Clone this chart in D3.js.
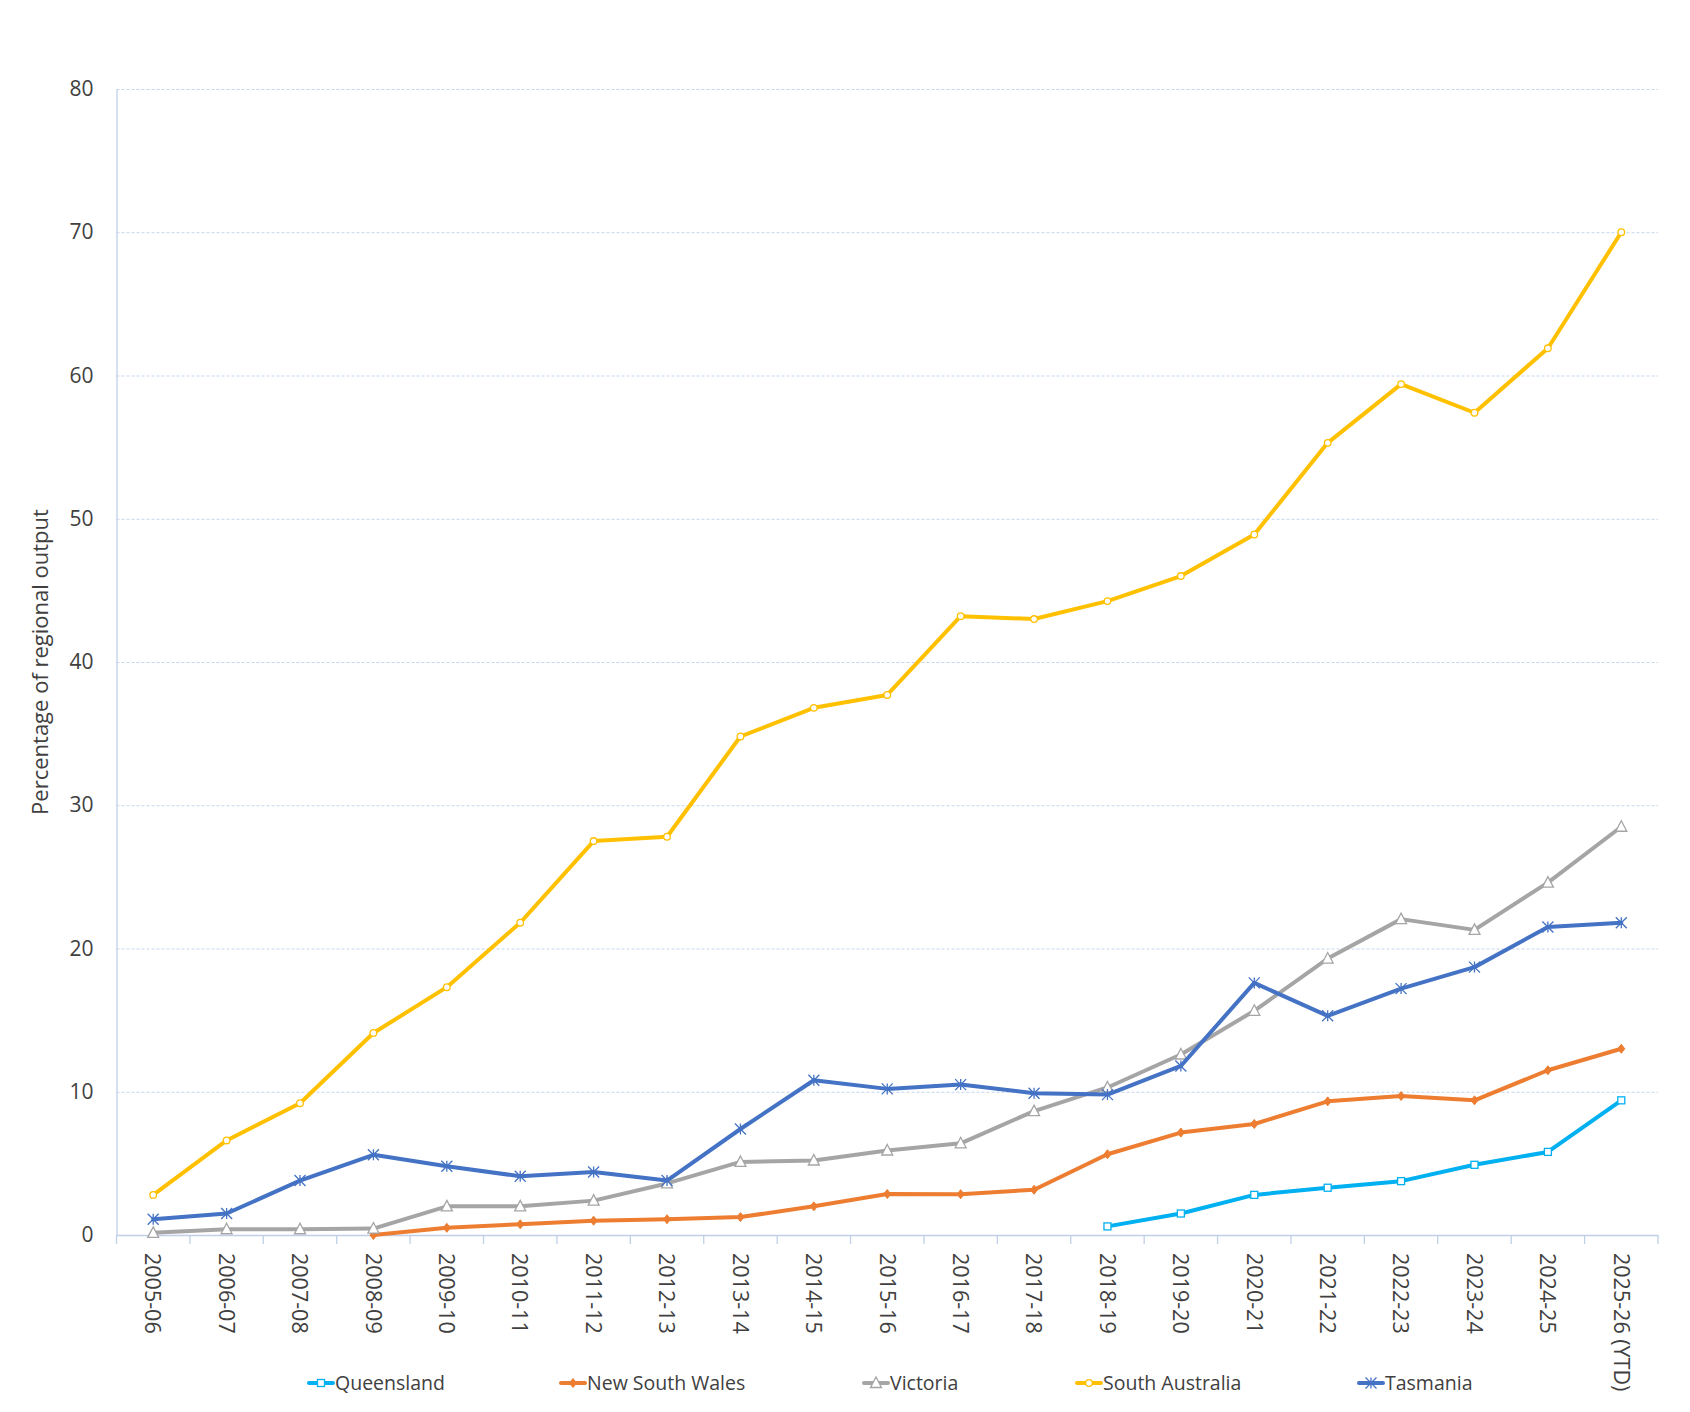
<!DOCTYPE html>
<html>
<head>
<meta charset="utf-8">
<script src="https://cdn.jsdelivr.net/npm/d3@7"></script>
<style>
  html, body { margin: 0; padding: 0; background: #ffffff; }
  svg { display: block; font-family: "Open Sans", "Noto Sans", sans-serif; }
</style>
</head>
<body>
<div id="chart"></div>
<script>
const categories = ["2005-06","2006-07","2007-08","2008-09","2009-10","2010-11","2011-12","2012-13","2013-14","2014-15","2015-16","2016-17","2017-18","2018-19","2019-20","2020-21","2021-22","2022-23","2023-24","2024-25","2025-26 (YTD)"];

const queensland = [null,null,null,null,null,null,null,null,null,null,null,null,null,0.6,1.5,2.8,3.3,3.76,4.9,5.8,9.4];
const newSouthWales = [null,null,null,0.0,0.5,0.75,1.0,1.1,1.25,2.0,2.86,2.85,3.16,5.64,7.15,7.75,9.33,9.7,9.4,11.5,13.0];
const victoria = [0.15,0.4,0.4,0.45,2.0,2.0,2.4,3.6,5.1,5.2,5.9,6.4,8.65,10.3,12.6,15.65,19.3,22.05,21.3,24.6,28.5];
const southAustralia = [2.8,6.6,9.2,14.1,17.3,21.8,27.5,27.8,34.8,36.8,37.7,43.2,43.0,44.25,46.0,48.9,55.3,59.4,57.4,61.9,70.0];
const tasmania = [1.1,1.5,3.8,5.6,4.8,4.1,4.4,3.8,7.4,10.8,10.2,10.5,9.9,9.8,11.8,17.6,15.3,17.2,18.7,21.5,21.8];

const yTicks = [0,10,20,30,40,50,60,70,80];
const yTitle = "Percentage of regional output";

const seriesNames = ["Queensland","New South Wales","Victoria","South Australia","Tasmania"];
const seriesValues = [queensland, newSouthWales, victoria, southAustralia, tasmania];
const seriesColors = ["#00b0f0","#ed7d31","#a5a5a5","#ffc000","#4472c4"];
const seriesMarkers = ["square","diamond","triangle","circle","star"];

const W = 1690, H = 1412;
const plot = {left: 116.5, right: 1658, top: 89, bottom: 1235};

const svg = d3.select("#chart").append("svg").attr("width", W).attr("height", H);

const x = d3.scaleBand().domain(categories).range([plot.left, plot.right]).paddingInner(0).paddingOuter(0);
const xc = d => x(d) + x.bandwidth() / 2;
const y = d3.scaleLinear().domain([0, 80]).range([plot.bottom, plot.top]);

// gridlines
const grid = svg.append("g")
  .attr("transform", `translate(${plot.left},0)`)
  .call(d3.axisLeft(y).tickValues(yTicks.filter(v => v > 0)).tickSize(-(plot.right - plot.left)).tickFormat(""));
grid.select(".domain").remove();
grid.selectAll(".tick line").attr("stroke", "#c3d5ec").attr("stroke-width", 1).attr("stroke-dasharray", "3,2");

// y axis
const yAxis = svg.append("g")
  .attr("transform", `translate(${plot.left},0)`)
  .call(d3.axisLeft(y).tickValues(yTicks).tickSize(0).tickPadding(23).tickFormat(d3.format("d")));
yAxis.select(".domain").attr("stroke", "#c0d0e8").attr("stroke-width", 1.3);
yAxis.selectAll(".tick text").attr("font-size", 21).attr("fill", "#404040")
  .attr("font-family", "'Open Sans', sans-serif");

// x axis
const xAxis = svg.append("g")
  .attr("transform", `translate(0,${plot.bottom})`)
  .call(d3.axisBottom(x).tickSize(0).tickPadding(0));
xAxis.select(".domain").attr("stroke", "#c0d0e8").attr("stroke-width", 1.5);
xAxis.selectAll(".tick text")
  .attr("font-size", 21.5).attr("fill", "#404040")
  .attr("font-family", "'Open Sans', sans-serif")
  .attr("text-anchor", "start")
  .attr("x", 0).attr("y", 0).attr("dy", "0.36em")
  .attr("transform", "translate(0,18) rotate(90)");

// boundary tick marks
const bounds = categories.map(c => x(c)).concat([plot.right]);
svg.append("g").selectAll("line").data(bounds).join("line")
  .attr("x1", d => d).attr("x2", d => d)
  .attr("y1", plot.bottom).attr("y2", plot.bottom + 9)
  .attr("stroke", "#c0d0e8").attr("stroke-width", 1.3);

// y title
svg.append("text")
  .attr("transform", `translate(40,${(plot.top + plot.bottom) / 2}) rotate(-90)`)
  .attr("text-anchor", "middle").attr("dy", "0.35em")
  .attr("font-size", 22).attr("fill", "#404040")
  .attr("font-family", "'Open Sans', sans-serif")
  .text(yTitle);

function drawMarker(g, type, color, cx, cy) {
  if (type === "square") {
    g.append("rect").attr("x", cx - 3.5).attr("y", cy - 3.5).attr("width", 7).attr("height", 7)
      .attr("fill", "#ffffff").attr("stroke", color).attr("stroke-width", 1.3);
  } else if (type === "diamond") {
    g.append("path").attr("d", `M${cx},${cy-4.5}L${cx+3.5},${cy}L${cx},${cy+4.5}L${cx-3.5},${cy}Z`)
      .attr("fill", color).attr("stroke", color).attr("stroke-width", 1);
  } else if (type === "triangle") {
    g.append("path").attr("d", `M${cx},${cy-6}L${cx+5.5},${cy+4.5}L${cx-5.5},${cy+4.5}Z`)
      .attr("fill", "#ffffff").attr("stroke", color).attr("stroke-width", 1.3);
  } else if (type === "circle") {
    g.append("circle").attr("cx", cx).attr("cy", cy).attr("r", 3.3)
      .attr("fill", "#ffffff").attr("stroke", color).attr("stroke-width", 1.3);
  } else if (type === "star") {
    const r = 5.5;
    g.append("path").attr("d",
      `M${cx-r},${cy-r}L${cx+r},${cy+r}M${cx-r},${cy+r}L${cx+r},${cy-r}M${cx},${cy-r}L${cx},${cy+r}`)
      .attr("fill", "none").attr("stroke", color).attr("stroke-width", 1.3);
  }
}

// series
const line = d3.line().defined(d => d.v !== null).x(d => xc(d.c)).y(d => y(d.v));
seriesNames.forEach((name, i) => {
  const data = categories.map((c, j) => ({c, v: seriesValues[i][j]}));
  const g = svg.append("g");
  g.append("path").datum(data).attr("d", line)
    .attr("fill", "none").attr("stroke", seriesColors[i]).attr("stroke-width", 4)
    .attr("stroke-linejoin", "round").attr("stroke-linecap", "round");
  data.filter(d => d.v !== null).forEach(d => drawMarker(g, seriesMarkers[i], seriesColors[i], xc(d.c), y(d.v)));
});

// legend
const legendX = [309, 561, 864, 1077, 1359];
const legendY = 1383;
seriesNames.forEach((name, i) => {
  const g = svg.append("g");
  const lx = legendX[i];
  g.append("line").attr("x1", lx).attr("x2", lx + 24).attr("y1", legendY).attr("y2", legendY)
    .attr("stroke", seriesColors[i]).attr("stroke-width", 4).attr("stroke-linecap", "round");
  drawMarker(g, seriesMarkers[i], seriesColors[i], lx + 12, legendY);
  g.append("text").attr("x", lx + 26).attr("y", legendY).attr("dy", "0.35em")
    .attr("font-size", 19.5).attr("fill", "#404040")
    .attr("font-family", "'Open Sans', sans-serif")
    .text(name);
});
</script>
</body>
</html>
